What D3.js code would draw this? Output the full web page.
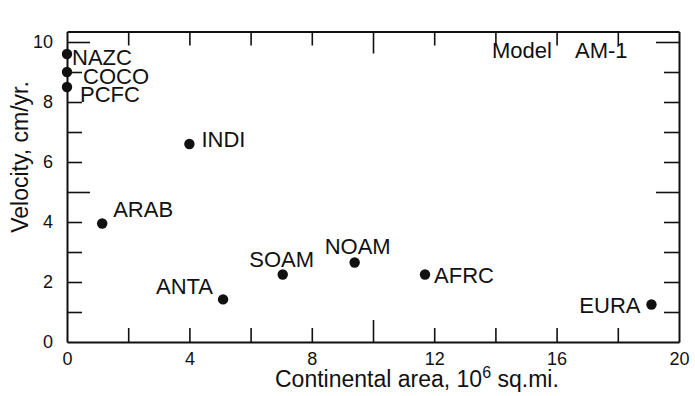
<!DOCTYPE html>
<html>
<head>
<meta charset="utf-8">
<script src="https://cdn.jsdelivr.net/npm/d3@7"></script>
<style>
  html, body { margin: 0; padding: 0; background: #fff; }
  svg { display: block; }
</style>
</head>
<body>
<svg id="chart" width="695" height="396"></svg>
<script>
// ---- data ----
const plates = ["NAZC", "COCO", "PCFC", "INDI", "ARAB", "ANTA", "SOAM", "NOAM", "AFRC", "EURA"];
const area = [0, 0, 0, 4.0, 1.15, 5.1, 7.05, 9.4, 11.7, 19.1];          // 10^6 sq.mi.
const velocity = [9.6, 9.0, 8.5, 6.6, 3.95, 1.42, 2.25, 2.65, 2.25, 1.25]; // cm/yr
const xTickLabels = [0, 4, 8, 12, 16, 20];
const yTickLabels = [0, 2, 4, 6, 8, 10];
const xTicks = [2, 4, 6, 8, 10, 12, 14, 16, 18];
const yTicks = [1, 2, 3, 4, 5, 6, 7, 8, 9, 10];
const modelWords = ["Model", "AM-1"];

// ---- layout (label placement relative to each point) ----
const labelLayout = {
  NAZC: { anchor: "start", dx: 5, dy: 11 },
  COCO: { anchor: "start", dx: 16, dy: 12 },
  PCFC: { anchor: "start", dx: 13, dy: 15 },
  INDI: { anchor: "start", dx: 12, dy: 3 },
  ARAB: { anchor: "start", dx: 11, dy: -7 },
  ANTA: { anchor: "end", dx: -10, dy: -5 },
  SOAM: { anchor: "middle", dx: -1, dy: -8 },
  NOAM: { anchor: "middle", dx: 3, dy: -9 },
  AFRC: { anchor: "start", dx: 9, dy: 8 },
  EURA: { anchor: "end", dx: -11, dy: 8 }
};
const FONT = "Liberation Sans, Arial, sans-serif";
const INK = "#111";

const svg = d3.select("#chart");
const x = d3.scaleLinear().domain([0, 20]).range([67, 679]);
const y = d3.scaleLinear().domain([0, 10.35]).range([342, 31.5]);
const [X0, X1] = x.range();
const [Y0, Y1] = y.range();

// ---- frame axes (inward ticks) ----
function styleAxis(g, longVals, longLen, attrName, sign) {
  g.selectAll("path,line").attr("stroke", INK);
  g.select(".domain").attr("stroke-width", 2);
  g.selectAll(".tick line").attr("stroke-width", 1.6)
    .filter(d => longVals.includes(d)).attr(attrName, sign * longLen);
  g.selectAll(".tick text").remove();
}
svg.append("g").attr("transform", `translate(0,${Y0})`)
  .call(d3.axisBottom(x).tickValues(xTicks).tickSizeInner(-14).tickSizeOuter(0))
  .call(g => styleAxis(g, [10], 22, "y2", -1));
svg.append("g").attr("transform", `translate(0,${Y1})`)
  .call(d3.axisTop(x).tickValues(xTicks).tickSizeInner(-14).tickSizeOuter(0))
  .call(g => styleAxis(g, [10], 22, "y2", 1));
svg.append("g").attr("transform", `translate(${X0},0)`)
  .call(d3.axisLeft(y).tickValues(yTicks).tickSizeInner(-15).tickSizeOuter(0))
  .call(g => styleAxis(g, [5, 10], 23, "x2", 1));
svg.append("g").attr("transform", `translate(${X1},0)`)
  .call(d3.axisRight(y).tickValues(yTicks).tickSizeInner(-15).tickSizeOuter(0))
  .call(g => styleAxis(g, [5, 10], 23, "x2", -1));

// ---- tick labels ----
svg.append("g").attr("transform", `translate(0,${Y0})`)
  .call(d3.axisBottom(x).tickValues(xTickLabels).tickSize(0).tickPadding(10).tickFormat(d3.format("d")))
  .call(g => {
    g.select(".domain").remove();
    g.selectAll(".tick line").remove();
    g.selectAll(".tick text").attr("font-size", 18).attr("font-family", FONT).attr("fill", INK);
  });
svg.append("g").attr("transform", `translate(53,0)`)
  .call(d3.axisLeft(y).tickValues(yTickLabels).tickSize(0).tickPadding(0).tickFormat(d3.format("d")))
  .call(g => {
    g.select(".domain").remove();
    g.selectAll(".tick line").remove();
    g.selectAll(".tick text").attr("font-size", 18).attr("font-family", FONT).attr("fill", INK);
  });

// ---- titles ----
const xTitle = svg.append("text")
  .attr("x", 275).attr("y", 387)
  .attr("font-family", FONT).attr("fill", INK)
  .attr("font-size", 23);
xTitle.append("tspan").text("Continental area, 10");
xTitle.append("tspan").attr("dy", -9).attr("font-size", 16).text("6");
xTitle.append("tspan").attr("dy", 9).text(" sq.mi.");

svg.append("text")
  .attr("transform", "translate(28,157) rotate(-90)")
  .attr("text-anchor", "middle")
  .attr("font-family", FONT).attr("fill", INK)
  .attr("font-size", 23)
  .text("Velocity, cm/yr.");

svg.selectAll("text.model").data(modelWords).enter().append("text")
  .attr("class", "model")
  .attr("x", (d, i) => i === 0 ? 492 : 575).attr("y", 58)
  .attr("font-family", FONT).attr("fill", INK)
  .attr("font-size", 22)
  .text(d => d);

// ---- points & labels ----
const pts = plates.map((p, i) => ({ name: p, a: area[i], v: velocity[i] }));
svg.selectAll("circle.pt").data(pts).enter().append("circle")
  .attr("class", "pt")
  .attr("cx", d => x(d.a)).attr("cy", d => y(d.v)).attr("r", 5.2)
  .attr("fill", INK);

svg.selectAll("text.pl").data(pts).enter().append("text")
  .attr("class", "pl")
  .attr("x", d => x(d.a) + labelLayout[d.name].dx)
  .attr("y", d => y(d.v) + labelLayout[d.name].dy)
  .attr("text-anchor", d => labelLayout[d.name].anchor)
  .attr("font-family", FONT).attr("fill", INK)
  .attr("font-size", 22)
  .text(d => d.name);
</script>
</body>
</html>
